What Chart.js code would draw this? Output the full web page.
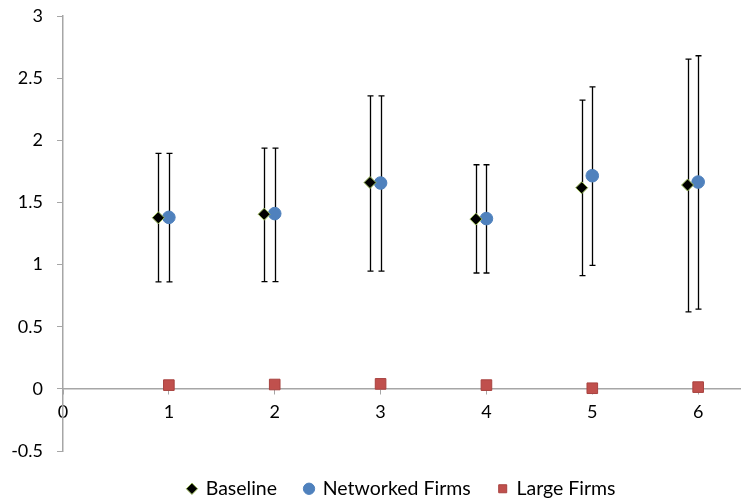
<!doctype html>
<html>
<head>
	<meta charset="utf-8">
	<title>Baseline vs Networked vs Large Firms</title>
	<script src="https://cdn.jsdelivr.net/npm/chart.js@4.4.1/dist/chart.umd.min.js"></script>
	<style>
		html, body { margin: 0; padding: 0; background: #fff; }
		.chart-box { width: 749px; height: 498px; }
	</style>
</head>
<body>
	<div class="chart-box">
		<canvas id="firmsChart"></canvas>
	</div>
	<script>
		// x positions (baseline drawn slightly left of each category)
		var xBaseline = [0.9, 1.9, 2.9, 3.9, 4.9, 5.9];
		var xNetworked = [1, 2, 3, 4, 5, 6];
		var xLarge = [1, 2, 3, 4, 5, 6];

		var yBaseline = [1.377, 1.405, 1.66, 1.366, 1.618, 1.64];
		var baselineHigh = [1.895, 1.937, 2.358, 1.803, 2.323, 2.653];
		var baselineLow = [0.86, 0.862, 0.948, 0.932, 0.911, 0.619];

		var yNetworked = [1.38, 1.41, 1.656, 1.37, 1.715, 1.664];
		var networkedHigh = [1.895, 1.937, 2.358, 1.803, 2.43, 2.68];
		var networkedLow = [0.86, 0.862, 0.948, 0.932, 0.994, 0.641];

		var yLarge = [0.03, 0.035, 0.04, 0.03, 0.005, 0.014];

		var yTicks = [-0.5, 0, 0.5, 1, 1.5, 2, 2.5, 3];
		var xTicks = [0, 1, 2, 3, 4, 5, 6];

		function toPoints(xs, ys) {
			return xs.map(function (x, i) { return { x: x, y: ys[i] }; });
		}

		// error whiskers, drawn under the markers
		var errorBars = {
			id: 'errorBars',
			beforeDatasetsDraw: function (chart) {
				var ctx = chart.ctx;
				var xs = chart.scales.x, ys = chart.scales.y;
				var sets = [
					[xBaseline, baselineLow, baselineHigh],
					[xNetworked, networkedLow, networkedHigh]
				];
				ctx.save();
				ctx.strokeStyle = '#000';
				ctx.lineWidth = 1.3;
				sets.forEach(function (s) {
					s[0].forEach(function (xv, i) {
						var px = Math.round(xs.getPixelForValue(xv)) + 0.5;
						var lo = ys.getPixelForValue(s[1][i]);
						var hi = ys.getPixelForValue(s[2][i]);
						ctx.beginPath();
						ctx.moveTo(px, lo); ctx.lineTo(px, hi);
						ctx.moveTo(px - 3, lo); ctx.lineTo(px + 3, lo);
						ctx.moveTo(px - 3, hi); ctx.lineTo(px + 3, hi);
						ctx.stroke();
					});
				});
				ctx.restore();
			}
		};

		var tickFont = { family: 'Lato', size: 18 };

		new Chart('firmsChart', {
			type: 'scatter',
			data: {
				datasets: [
					{
						label: 'Baseline',
						data: toPoints(xBaseline, yBaseline),
						pointStyle: 'rectRot',
						pointRadius: 6,
						backgroundColor: '#000000',
						borderColor: '#9BBB59',
						borderWidth: 1
					},
					{
						label: 'Networked Firms',
						data: toPoints(xNetworked, yNetworked),
						pointStyle: 'circle',
						pointRadius: 6.3,
						backgroundColor: '#4F81BD',
						borderColor: '#4F81BD',
						borderWidth: 1
					},
					{
						label: 'Large Firms',
						data: toPoints(xLarge, yLarge),
						pointStyle: 'rect',
						pointRadius: 7.5,
						backgroundColor: '#C0504D',
						borderColor: '#A8423F',
						borderWidth: 1
					}
				]
			},
			options: {
				responsive: true,
				maintainAspectRatio: false,
				animation: false,
				layout: { padding: { top: 16, right: 0, bottom: 0, left: 0 } },
				plugins: {
					tooltip: { enabled: false },
					legend: {
						position: 'bottom',
						fullSize: false,
						maxHeight: 47,
						labels: {
							usePointStyle: true,
							boxHeight: 8,
							boxWidth: 8,
							padding: 28,
							color: '#000',
							font: { family: 'Lato', size: 19.5 }
						}
					}
				},
				scales: {
					x: {
						type: 'linear',
						position: { y: 0 },
						min: 0,
						max: 6.4,
						afterBuildTicks: function (axis) {
							axis.ticks = xTicks.map(function (v) { return { value: v }; });
						},
						ticks: { color: '#000', font: tickFont, padding: 8 },
						grid: { drawOnChartArea: false, tickLength: 5, color: '#A6A6A6' },
						border: { color: '#A6A6A6', width: 1.5 }
					},
					y: {
						min: -0.5,
						max: 3,
						afterBuildTicks: function (axis) {
							axis.ticks = yTicks.map(function (v) { return { value: v }; });
						},
						afterFit: function (axis) {
							axis.width = 63;
							axis.paddingTop = 10;
							axis.paddingBottom = 10;
						},
						ticks: {
							color: '#000',
							font: tickFont,
							padding: 14,
							callback: function (v) { return String(v); }
						},
						grid: { drawOnChartArea: false, tickLength: 6, color: '#A6A6A6' },
						border: { color: '#A6A6A6', width: 1.5 }
					}
				}
			},
			plugins: [errorBars]
		});
	</script>
</body>
</html>
